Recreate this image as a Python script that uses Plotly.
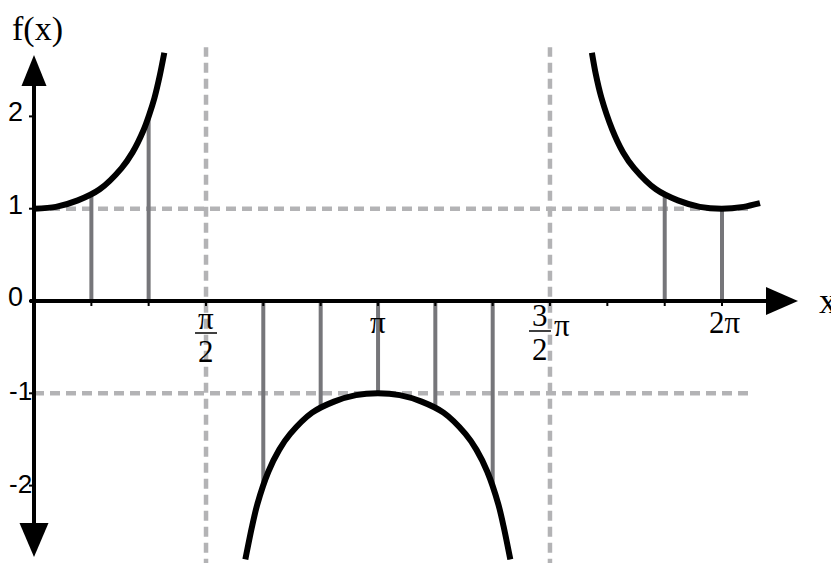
import plotly.graph_objects as go

# sec(x) over one period (x in radians)
BRANCH1_X = [0.0, 0.2, 0.4, 0.6, 0.8, 0.9, 1.0, 1.05, 1.1, 1.15, 1.19]
BRANCH1_Y = [1.0, 1.02, 1.09, 1.21, 1.44, 1.61, 1.85, 2.01, 2.2, 2.45, 2.69]

BRANCH2_X = [1.93, 1.99, 2.04, 2.14, 2.24, 2.34, 2.54, 2.74, 2.94, 3.14,
             3.34, 3.54, 3.74, 3.94, 4.04, 4.14, 4.24, 4.29, 4.35]
BRANCH2_Y = [-2.8, -2.45, -2.2, -1.85, -1.61, -1.44, -1.21, -1.09, -1.02, -1.0,
             -1.02, -1.09, -1.21, -1.44, -1.61, -1.85, -2.2, -2.45, -2.8]

BRANCH3_X = [5.095, 5.13, 5.18, 5.28, 5.38, 5.48, 5.68, 5.88, 6.08, 6.28, 6.48, 6.63]
BRANCH3_Y = [2.69, 2.46, 2.21, 1.86, 1.61, 1.44, 1.21, 1.09, 1.02, 1.0, 1.02, 1.06]

# vertical drop lines from the x axis to the curve
DROP_X = [0.524, 1.047, 2.094, 2.618, 3.142, 3.665, 4.189, 5.760, 6.283]
DROP_Y = [1.15, 2.0, -2.0, -1.15, -1.0, -1.15, -2.0, 1.15, 1.0]

# asymptotes and the y = ±1 guides
ASYMPTOTE_X = [1.571, 4.712]
GUIDE_Y = [1.0, -1.0]

X_TICKS = [0.524, 1.047, 1.571, 2.094, 2.618, 3.142, 3.665, 4.189, 4.712, 5.236, 5.760, 6.283]
Y_TICKS = [2, 1, 0, -1, -2]
Y_TICK_TEXT = ["2", "1", "0", "-1", "-2"]

# the page has an 8px body margin, so the figure is 16px smaller than the window
X_RANGE = [-0.2374, 7.3516]
Y_RANGE = [-2.8386, 3.1744]

SERIF = "Liberation Serif"
SANS = "Liberation Sans"
CURVE_COLOR = "#000000"
DROP_COLOR = "#76767a"
DASH_COLOR = "#b3b3b5"

fig = go.Figure()

shapes = []
annotations = []

# dashed guides
for gy in GUIDE_Y:
    shapes.append(dict(type="line", xref="x", yref="y", x0=0, x1=6.55, y0=gy, y1=gy,
                       line=dict(color=DASH_COLOR, width=4.5, dash="10px,6px"), layer="below"))
for ax in ASYMPTOTE_X:
    shapes.append(dict(type="line", xref="x", yref="y", x0=ax, x1=ax, y0=-2.9, y1=2.75,
                       line=dict(color=DASH_COLOR, width=4.5, dash="10px,6px"), layer="below"))

# drop lines
drop_x, drop_y = [], []
for dx, dy in zip(DROP_X, DROP_Y):
    drop_x += [dx, dx, None]
    drop_y += [0, dy, None]
fig.add_trace(go.Scatter(x=drop_x, y=drop_y, mode="lines",
                         line=dict(color=DROP_COLOR, width=4), hoverinfo="skip"))

# the curve
for bx, by in [(BRANCH1_X, BRANCH1_Y), (BRANCH2_X, BRANCH2_Y), (BRANCH3_X, BRANCH3_Y)]:
    fig.add_trace(go.Scatter(x=bx, y=by, mode="lines",
                             line=dict(color=CURVE_COLOR, width=6, shape="spline", smoothing=0.8),
                             hoverinfo="skip"))

# axes
fig.add_trace(go.Scatter(x=[-0.04, 6.75, None, 0, 0], y=[0, 0, None, 2.45, -2.5], mode="lines",
                         line=dict(color="black", width=4), hoverinfo="skip"))
# arrowheads (pixel offsets relative to the tip)
shapes.append(dict(type="path", xref="x", yref="y", xsizemode="pixel", ysizemode="pixel",
                   xanchor=0, yanchor=2.665, path="M 0,0 L -12.5,-31 L 12.5,-31 Z",
                   fillcolor="black", line=dict(width=0)))
shapes.append(dict(type="path", xref="x", yref="y", xsizemode="pixel", ysizemode="pixel",
                   xanchor=0, yanchor=-2.774, path="M 0,0 L -14.5,34 L 14.5,34 Z",
                   fillcolor="black", line=dict(width=0)))
shapes.append(dict(type="path", xref="x", yref="y", xsizemode="pixel", ysizemode="pixel",
                   xanchor=6.977, yanchor=0, path="M 0,0 L -32,14 L -32,-14 Z",
                   fillcolor="black", line=dict(width=0)))

# small tick marks
for tx in X_TICKS:
    shapes.append(dict(type="line", xref="x", yref="y", xsizemode="pixel", ysizemode="pixel",
                       xanchor=tx, yanchor=0, x0=0, x1=0, y0=0, y1=-5,
                       line=dict(color="black", width=2)))
for ty in Y_TICKS:
    shapes.append(dict(type="line", xref="x", yref="y", xsizemode="pixel", ysizemode="pixel",
                       xanchor=0, yanchor=ty, x0=-5, x1=0, y0=0, y1=0,
                       line=dict(color="black", width=2)))

# y tick labels; the negative ones would spill past the left edge, so they sit flush with it
for ty, tt in zip(Y_TICKS, Y_TICK_TEXT):
    if ty < 0:
        annotations.append(dict(x=X_RANGE[0], y=ty, xref="x", yref="y", text=tt, showarrow=False,
                                xanchor="left", yanchor="middle", xshift=-1, yshift=2,
                                font=dict(family=SANS, size=26, color="black")))
    else:
        annotations.append(dict(x=0, y=ty, xref="x", yref="y", text=tt, showarrow=False,
                                xanchor="right", yanchor="middle", xshift=-9, yshift=4,
                                font=dict(family=SANS, size=27, color="black")))


# x tick labels: π/2, π, 3/2 π, 2π
def label(x, text, xshift, yshift, size=31):
    annotations.append(dict(x=x, y=0, xref="x", yref="y", text=text, showarrow=False,
                            xanchor="center", yanchor="middle", xshift=xshift, yshift=yshift,
                            font=dict(family=SERIF, size=size, color="black")))


def frac_bar(x, x0, x1, y):
    shapes.append(dict(type="line", xref="x", yref="y", xsizemode="pixel", ysizemode="pixel",
                       xanchor=x, yanchor=0, x0=x0, x1=x1, y0=y, y1=y,
                       line=dict(color="black", width=1.5)))


label(1.571, "π", 0, -17)
frac_bar(1.571, -11, 11, -32)
label(1.571, "2", 0, -50)

label(3.142, "π", 0, -21)

label(4.712, "3", -10, -14)
frac_bar(4.712, -21, 1, -30)
label(4.712, "2", -10, -48)
label(4.712, "π", 12, -24)

label(6.283, "2π", 3, -21)

# axis names
annotations.append(dict(x=0, y=Y_RANGE[1], xref="x", yref="y", text="f(x)", showarrow=False,
                        xanchor="center", yanchor="top", xshift=3, yshift=0,
                        font=dict(family=SERIF, size=34, color="black")))
annotations.append(dict(x=X_RANGE[1], y=0, xref="x", yref="y", text="x", showarrow=False,
                        xanchor="right", yanchor="middle", xshift=0, yshift=0,
                        font=dict(family=SERIF, size=36, color="black")))

fig.update_layout(
    width=831,
    height=555,
    margin=dict(l=0, r=0, t=0, b=0),
    showlegend=False,
    plot_bgcolor="white",
    paper_bgcolor="white",
    xaxis=dict(range=X_RANGE, visible=False, fixedrange=True),
    yaxis=dict(range=Y_RANGE, visible=False, fixedrange=True),
    shapes=shapes,
    annotations=annotations,
)

fig.write_html("out.html")
